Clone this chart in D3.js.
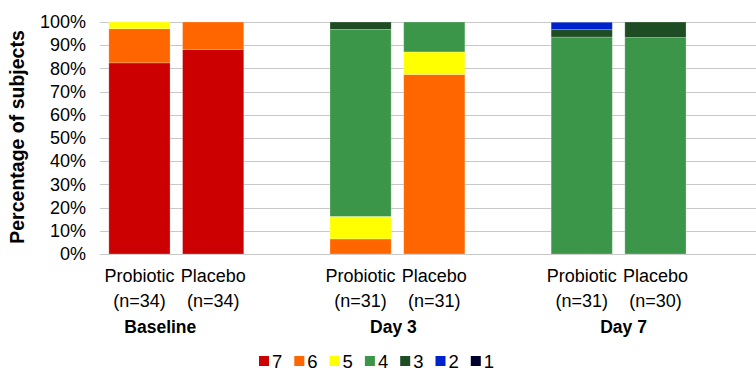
<!DOCTYPE html>
<html><head><meta charset="utf-8">
<script src="https://cdn.jsdelivr.net/npm/d3@7"></script>
<style>body{margin:0;background:#fff}svg{display:block}text{font-family:Arial,"Liberation Sans",sans-serif;fill:#000}</style>
</head><body><svg id="c" width="756" height="370"></svg>
<script>
const categories = ["Probiotic","Placebo","Probiotic","Placebo","Probiotic","Placebo"];
const nLabels = ["(n=34)","(n=34)","(n=31)","(n=31)","(n=31)","(n=30)"];
const groups = ["Baseline","Day 3","Day 7"];
const scores = ["7","6","5","4","3","2","1"];
const s7 = [82.4, 88.2, 0, 0, 0, 0];
const s6 = [14.7, 11.8, 6.5, 77.4, 0, 0];
const s5 = [2.9, 0, 9.7, 9.7, 0, 0];
const s4 = [0, 0, 80.6, 12.9, 93.5, 93.3];
const s3 = [0, 0, 3.2, 0, 3.2, 6.7];
const s2 = [0, 0, 0, 0, 3.2, 0];
const s1 = [0, 0, 0, 0, 0, 0];
const yTicks = [0,10,20,30,40,50,60,70,80,90,100];
const colors = ["#CC0000","#FF6600","#FFFF00","#3C9649","#1E4C23","#0022CC","#00002E"];

const seriesVals = [s7,s6,s5,s4,s3,s2,s1];
const svg = d3.select("#c");
const slots = [];
groups.forEach((g,gi)=>{ slots.push(gi*2, gi*2+1, "gap"+gi); });
const x = d3.scaleBand().domain(slots).range([102.6, 766]).paddingInner(0.17).paddingOuter(0.085);
const y = d3.scaleLinear().domain([0,100]).range([254,22]);

svg.append("g").selectAll("line").data(yTicks).join("line")
  .attr("x1",100).attr("x2",756)
  .attr("y1",d=>Math.round(y(d))+0.5).attr("y2",d=>Math.round(y(d))+0.5)
  .attr("stroke","#c8c8c8").attr("stroke-width",1.2);

const yAxis = d3.axisLeft(y).tickValues(yTicks).tickFormat(d=>d+"%").tickSize(0).tickPadding(0);
const ya = svg.append("g").attr("transform","translate(86,0)").call(yAxis);
ya.select(".domain").remove();
ya.selectAll("text").style("font-size","18px").style("font-family","Arial, 'Liberation Sans', sans-serif").attr("fill","#000");

const rows = categories.map((c,i)=>{ const r={idx:i}; scores.forEach((s,k)=>r[s]=seriesVals[k][i]); return r; });
const stack = d3.stack().keys(scores)(rows);
svg.append("g").selectAll("g").data(stack).join("g")
  .attr("fill",(d,i)=>colors[i])
  .selectAll("rect").data(d=>d.filter(p=>p[1]-p[0]>0)).join("rect")
  .attr("x",d=>x(d.data.idx)).attr("width",x.bandwidth())
  .attr("y",d=>y(d[1])).attr("height",d=>y(d[0])-y(d[1]))
  .attr("stroke","rgba(255,255,255,0.3)").attr("stroke-width",0.8);

const cl = svg.append("g");
categories.forEach((c,i)=>{
  const cx = x(i)+x.bandwidth()/2;
  cl.append("text").attr("x",cx).attr("y",282).attr("text-anchor","middle").style("font-size","18px").text(c);
  cl.append("text").attr("x",cx).attr("y",307).attr("text-anchor","middle").style("font-size","18px").text(nLabels[i]);
});
const groupOffsets = [-16, -4, 5];
groups.forEach((g,gi)=>{
  const cx = (x(gi*2) + x(gi*2+1) + x.bandwidth())/2 + groupOffsets[gi];
  cl.append("text").attr("x",cx).attr("y",333).attr("text-anchor","middle").style("font-size","17.5px").style("font-weight","bold").text(g);
});

svg.append("text").attr("transform","translate(24,137) rotate(-90)").attr("text-anchor","middle")
  .style("font-size","19.5px").style("font-weight","bold").text("Percentage of subjects");

const lg = svg.append("g");
scores.forEach((s,i)=>{
  const lx = 259 + i*35.3;
  lg.append("rect").attr("x",lx).attr("y",356).attr("width",10).attr("height",10).attr("fill",colors[i]);
  lg.append("text").attr("x",lx+13).attr("y",367.5).style("font-size","18.5px").text(s);
});
</script></body></html>
